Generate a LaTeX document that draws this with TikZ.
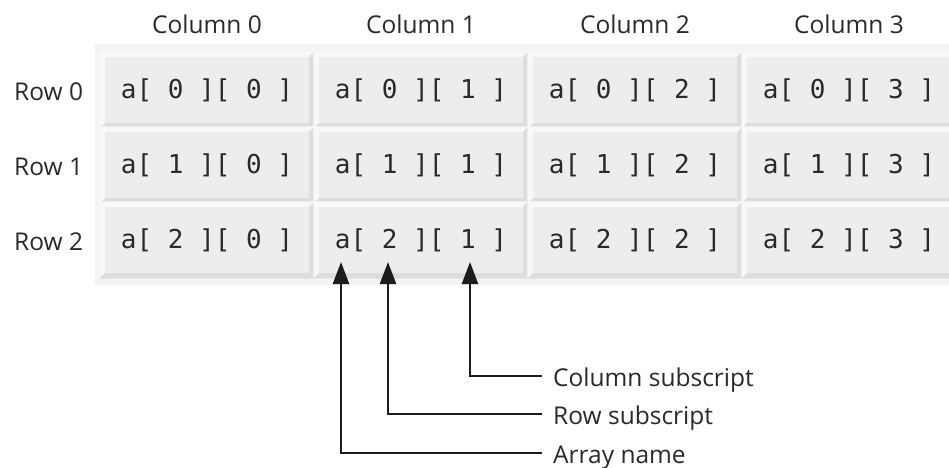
\documentclass[tikz,border=0pt]{standalone}
\usepackage{fontspec}
\setmainfont{Open Sans}
\setmonofont{DejaVu Sans Mono}
\usetikzlibrary{arrows.meta,calc}
\definecolor{panelbg}{HTML}{F3F4F4}
\definecolor{faceC}{HTML}{ECEDEF}
\definecolor{lightC}{HTML}{F8F8F8}
\definecolor{darkC}{HTML}{DCDDDD}
\definecolor{txt}{HTML}{2A2A2A}
\definecolor{arrowC}{HTML}{1C1C1C}
\begin{document}
\begin{tikzpicture}[x=1pt,y=-1pt,
  cellface/.style={fill=faceC, minimum width=204pt, minimum height=66pt, inner sep=0pt,
    font=\fontsize{26}{30}\selectfont\ttfamily, text=txt},
  collab/.style={anchor=base, inner sep=0pt, font=\fontsize{24.5}{28}\selectfont, text=txt},
  rowlab/.style={anchor=base west, inner sep=0pt, font=\fontsize{24.5}{28}\selectfont, text=txt},
  note/.style={anchor=west, inner xsep=11pt, inner ysep=0pt, text height=20pt, text depth=0pt,
    font=\fontsize{24.5}{28}\selectfont, text=txt},
  pointer/.style={draw=arrowC, line width=2.4pt, -{Triangle[length=22pt,width=16pt]}}
]
\useasboundingbox (0,0) rectangle (949,467);
\clip (0,0) rectangle (949,467);
\fill[white] (0,0) rectangle (949,467);
\fill[panelbg] (95,44) rectangle (960,285);
\foreach \ri in {0,1,2}{
  \foreach \ci in {0,1,2,3}{
    \pgfmathsetmacro\cx{207+214*\ci}
    \pgfmathsetmacro\cy{90+75*\ri}
    \node[cellface] (c\ri\ci) at (\cx,\cy) {a[ \ri{} ][ \ci{} ]};
    \fill[lightC] ([shift={(-5.5pt,5.5pt)}]c\ri\ci.north west) -- ([shift={(5.5pt,5.5pt)}]c\ri\ci.north east)
      -- (c\ri\ci.north east) -- (c\ri\ci.north west) -- (c\ri\ci.south west)
      -- ([shift={(-5.5pt,-5.5pt)}]c\ri\ci.south west) -- cycle;
    \fill[darkC] ([shift={(5.5pt,-5.5pt)}]c\ri\ci.south east) -- ([shift={(5.5pt,5.5pt)}]c\ri\ci.north east)
      -- (c\ri\ci.north east) -- (c\ri\ci.south east) -- (c\ri\ci.south west)
      -- ([shift={(-5.5pt,-5.5pt)}]c\ri\ci.south west) -- cycle;
  }
}
\foreach \ci in {0,1,2,3}{
  \pgfmathsetmacro\cx{207+214*\ci}
  \node[collab] (col\ci) at (\cx,33) {Column \ci};
}
\foreach \ri in {0,1,2}{
  \pgfmathsetmacro\cy{100+75*\ri}
  \node[rowlab] (row\ri) at (14,\cy) {Row \ri};
}
\coordinate (tA) at (341,262);
\coordinate (tB) at (388,262);
\coordinate (tC) at (470,262);
\node[note] (nC) at (542,376) {Column subscript};
\node[note] (nR) at (542,414) {Row subscript};
\node[note] (nA) at (542,453) {Array name};
\draw[pointer] (nC.west) -| (tC);
\draw[pointer] (nR.west) -| (tB);
\draw[pointer] (nA.west) -| (tA);
\end{tikzpicture}
\end{document}
